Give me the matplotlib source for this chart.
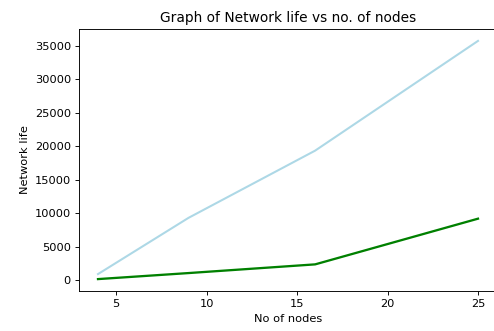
import matplotlib
matplotlib.use("Agg")
import matplotlib.pyplot as plt

nodes = [4, 9, 16, 25]
life_a = [900, 9300, 19350, 35750]
life_b = [150, 1050, 2350, 9180]

dpi = 72 * 494 / 432
fig = plt.figure(figsize=(494 / dpi, 331 / dpi), dpi=dpi)
ax = fig.add_axes([79 / 494, 40 / 331, 418 / 494, 262 / 331])
ax.plot(nodes, life_a, color="lightblue", lw=1.8)
ax.plot(nodes, life_b, color="green", lw=2.0)
ax.set_xticks([5, 10, 15, 20, 25])
ax.spines["right"].set_visible(False)  # cropped off in the reference
ax.set_title("Graph of Network life vs no. of nodes")
ax.set_xlabel("No of nodes")
ax.set_ylabel("Network life")
fig.savefig("out.png", dpi=dpi)
